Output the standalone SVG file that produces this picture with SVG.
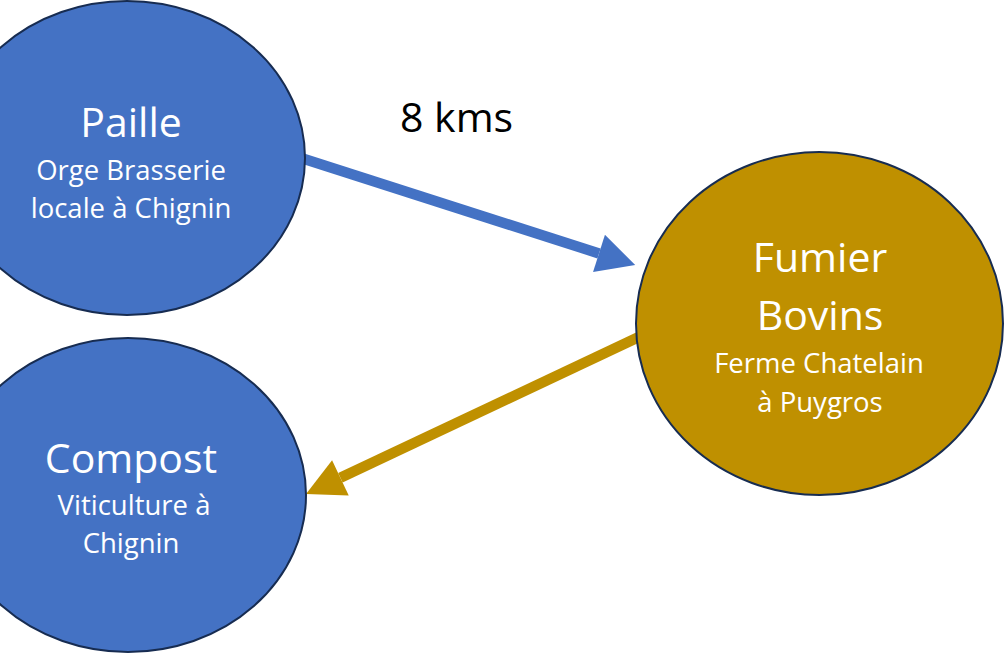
<svg xmlns="http://www.w3.org/2000/svg" width="1006" height="656" viewBox="0 0 1006 656">
<style>
.node{stroke:#172C51;stroke-width:2}
.blue{fill:#4472C4}
.gold{fill:#BF9000}
.big{font-family:"Open Sans","Liberation Sans",sans-serif;font-size:41px;fill:#ffffff;text-anchor:middle}
.small{font-family:"Open Sans","Liberation Sans",sans-serif;font-size:27.5px;fill:#ffffff;text-anchor:middle}
.lbl{font-family:"Open Sans","Liberation Sans",sans-serif;font-size:41px;fill:#000000}
.conn{fill:none;stroke-width:10.5}
</style>
<defs>
<marker id="ahBlue" markerUnits="userSpaceOnUse" viewBox="0 -20 38 40" markerWidth="38" markerHeight="40" refX="0" refY="0" orient="auto" overflow="visible">
<path d="M0,-19.5 L38,0 L0,19.5 Z" fill="#4472C4"/>
</marker>
<marker id="ahGold" markerUnits="userSpaceOnUse" viewBox="0 -20 38 40" markerWidth="38" markerHeight="40" refX="0" refY="0" orient="auto" overflow="visible">
<path d="M0,-19.5 L38,0 L0,19.5 Z" fill="#BF9000"/>
</marker>
</defs>
<rect width="1006" height="656" fill="#ffffff"/>
<g id="connectors">
<line class="conn" x1="298" y1="157" x2="599" y2="253.4" stroke="#4472C4" marker-end="url(#ahBlue)"/>
<line class="conn" x1="642" y1="335.5" x2="340.4" y2="477.8" stroke="#BF9000" marker-end="url(#ahGold)"/>
<text class="lbl" x="400" y="132">8 kms</text>
</g>
<g id="paille">
<ellipse class="node blue" cx="127" cy="158" rx="178" ry="157"/>
<text class="big" x="131" y="137">Paille</text>
<text class="small" x="131" y="180">Orge Brasserie</text>
<text class="small" x="131" y="218">locale à Chignin</text>
</g>
<g id="compost">
<ellipse class="node blue" cx="128" cy="495" rx="178" ry="157"/>
<text class="big" x="131" y="473">Compost</text>
<text class="small" x="134" y="515">Viticulture à</text>
<text class="small" x="131" y="553">Chignin</text>
</g>
<g id="fumier">
<ellipse class="node gold" cx="819.5" cy="323.5" rx="183.5" ry="171.5"/>
<text class="big" x="820" y="272">Fumier</text>
<text class="big" x="820" y="330">Bovins</text>
<text class="small" x="819" y="373">Ferme Chatelain</text>
<text class="small" x="820" y="412">à Puygros</text>
</g>
</svg>
